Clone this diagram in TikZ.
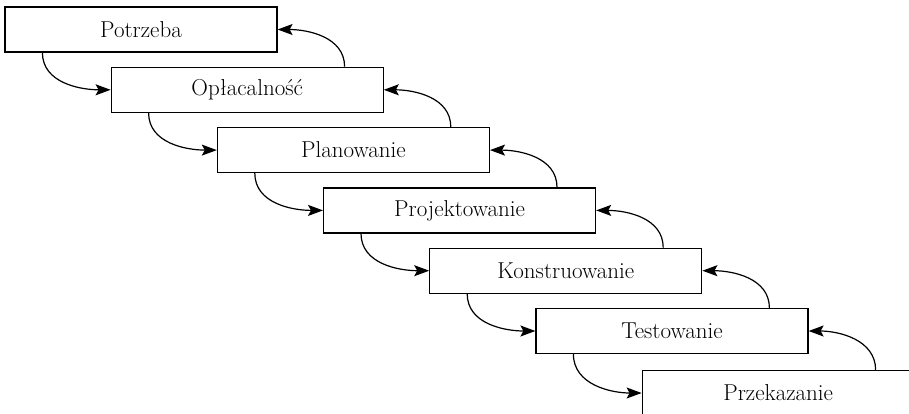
\documentclass[tikz,border=0pt]{standalone}
\usetikzlibrary{arrows.meta}
\begin{document}
\begin{tikzpicture}[x=1pt,y=1pt,
  box/.style={draw,line width=1.2pt,minimum width=272pt,minimum height=45pt,inner sep=0pt,font=\fontsize{23}{28}\selectfont},
  arr/.style={line width=1.2pt,-{Stealth[length=15pt,width=11pt,inset=3pt]}}]
\useasboundingbox (0,0) rectangle (909,-413);
\clip (0,0) rectangle (909,-413);
\def\dx{106.2}\def\dy{60.3}
\node[box] (b1) at (141+0*\dx,-29.5-0*\dy) {Potrzeba};
\node[box] (b2) at (141+1*\dx,-29.5-1*\dy) {Opłacalność};
\node[box] (b3) at (141+2*\dx,-29.5-2*\dy) {Planowanie};
\node[box] (b4) at (141+3*\dx,-29.5-3*\dy) {Projektowanie};
\node[box] (b5) at (141+4*\dx,-29.5-4*\dy) {Konstruowanie};
\node[box] (b6) at (141+5*\dx,-29.5-5*\dy) {Testowanie};
\node[box] (b7) at (141+6*\dx,-393) {Przekazanie};
\foreach \a/\b in {b1/b2,b2/b3,b3/b4,b4/b5,b5/b6,b6/b7}{
  \draw[arr] ([xshift=38pt]\a.south west) to[out=-90,in=180] (\b.west);
  \draw[arr] ([xshift=234pt]\b.north west) to[out=90,in=0] (\a.east);
}
\end{tikzpicture}
\end{document}
